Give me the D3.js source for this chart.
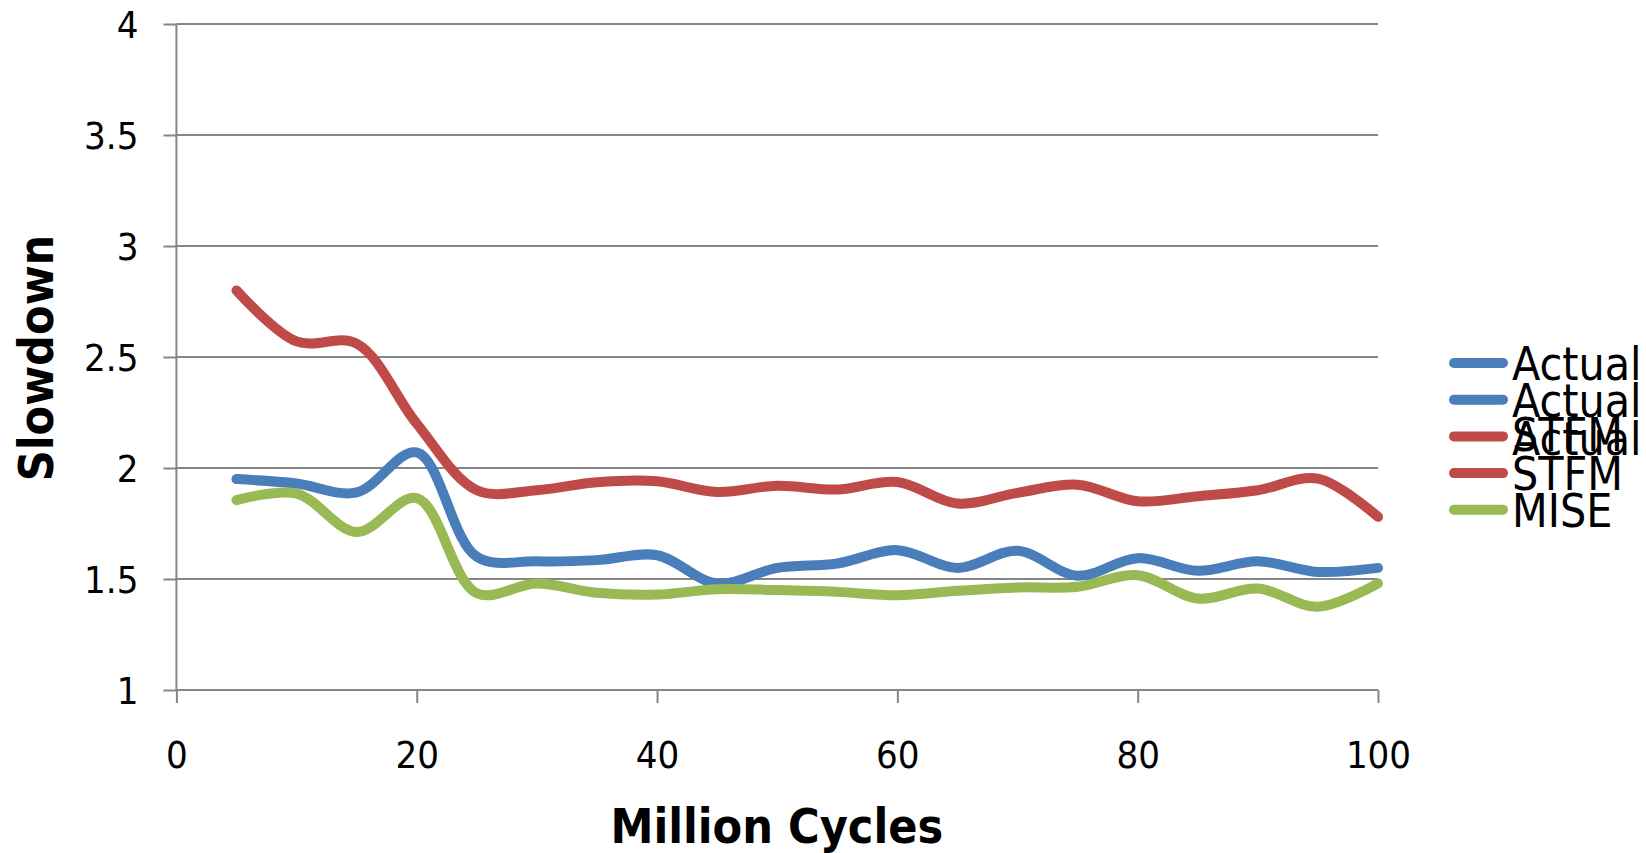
<!DOCTYPE html>
<html>
<head>
<meta charset="utf-8">
<script src="https://cdn.jsdelivr.net/npm/d3@7"></script>
<style>
  html, body { margin: 0; padding: 0; background: #ffffff; }
  svg { display: block; }
  text { font-family: "DejaVu Sans Condensed", "DejaVu Sans", sans-serif; font-stretch: condensed; fill: #000; }
</style>
</head>
<body>
<svg id="chart" width="1646" height="853"></svg>
<script>
// Slowdown over time, sampled every 5 million cycles
const cycles = [5, 10, 15, 20, 25, 30, 35, 40, 45, 50, 55, 60, 65, 70, 75, 80, 85, 90, 95, 100];
const actual = [1.95, 1.93, 1.89, 2.07, 1.60, 1.58, 1.585, 1.607, 1.48, 1.55, 1.57, 1.63, 1.55, 1.627, 1.515, 1.594, 1.537, 1.58, 1.532, 1.55];
const stfm   = [2.80, 2.57, 2.56, 2.20, 1.90, 1.90, 1.936, 1.94, 1.892, 1.92, 1.903, 1.937, 1.84, 1.888, 1.925, 1.85, 1.873, 1.90, 1.952, 1.78];
const mise   = [1.855, 1.885, 1.712, 1.864, 1.436, 1.48, 1.438, 1.43, 1.454, 1.45, 1.442, 1.427, 1.447, 1.462, 1.465, 1.517, 1.412, 1.457, 1.375, 1.48];

const xTicks = [0, 20, 40, 60, 80, 100];
const yTicks = [1, 1.5, 2, 2.5, 3, 3.5, 4];

// Legend rows: swatch series and the labels written beside each swatch
const legendSwatches = ["Actual", "Actual", "STFM", "STFM", "MISE"];
const legendLabels = [["Actual"], ["Actual"], ["STFM", "Actual"], ["STFM"], ["MISE"]];

const colors = { Actual: "#4a7ebb", STFM: "#be4b48", MISE: "#98b954" };

const series = [
  { name: "Actual", values: actual },
  { name: "STFM", values: stfm },
  { name: "MISE", values: mise }
];

const svg = d3.select("#chart");

const x = d3.scaleLinear().domain([0, 100]).range([176.4, 1378]);
const y = d3.scaleLinear().domain([1, 4]).range([690, 24]);

const gridColor = "#868686";

// Horizontal gridlines
svg.append("g")
  .selectAll("line")
  .data(yTicks.slice(1))
  .join("line")
  .attr("x1", x(0))
  .attr("x2", x(100))
  .attr("y1", d => y(d))
  .attr("y2", d => y(d))
  .attr("stroke", gridColor)
  .attr("stroke-width", 2);

// Y axis
const yAxis = svg.append("g")
  .attr("transform", `translate(${x(0)},0)`)
  .call(d3.axisLeft(y).tickValues(yTicks).tickFormat(d3.format("")).tickSize(13).tickPadding(25));
yAxis.select(".domain").attr("stroke", gridColor).attr("stroke-width", 2)
  .attr("d", `M0,${y(4)}V${y(1) + 0.5}`);
yAxis.selectAll(".tick line").attr("stroke", gridColor).attr("stroke-width", 2);
yAxis.selectAll(".tick text")
  .attr("font-size", 38)
  .attr("font-family", null)
  .attr("dy", "0.36em");

// X axis
const xAxis = svg.append("g")
  .attr("transform", `translate(0,${y(1)})`)
  .call(d3.axisBottom(x).tickValues(xTicks).tickSize(13).tickPadding(0));
xAxis.select(".domain").attr("stroke", gridColor).attr("stroke-width", 2)
  .attr("d", `M${x(0)},0H${x(100)}`);
xAxis.selectAll(".tick line").attr("stroke", gridColor).attr("stroke-width", 2);
xAxis.selectAll(".tick text")
  .attr("font-size", 38)
  .attr("font-family", null)
  .attr("y", 78)
  .attr("dy", 0);

// Series lines, smoothed
const line = d3.line()
  .x((d, i) => x(cycles[i]))
  .y(d => y(d))
  .curve(d3.curveCatmullRom.alpha(0.5));

svg.append("g")
  .selectAll("path")
  .data(series)
  .join("path")
  .attr("d", d => line(d.values))
  .attr("fill", "none")
  .attr("stroke", d => colors[d.name])
  .attr("stroke-width", 10)
  .attr("stroke-linecap", "round")
  .attr("stroke-linejoin", "round");

// Axis titles
svg.append("text")
  .attr("x", x(50) - 0.4)
  .attr("y", 843)
  .attr("text-anchor", "middle")
  .attr("font-size", 48)
  .attr("font-weight", "bold")
  .text("Million Cycles");

svg.append("text")
  .attr("transform", "translate(53,358) rotate(-90)")
  .attr("text-anchor", "middle")
  .attr("font-size", 48)
  .attr("font-weight", "bold")
  .text("Slowdown");

// Legend
const legendTop = 363;
const legendStep = 36.7;
const legend = svg.append("g");

legend.selectAll("line")
  .data(legendSwatches)
  .join("line")
  .attr("x1", 1454)
  .attr("x2", 1503)
  .attr("y1", (d, i) => legendTop + i * legendStep)
  .attr("y2", (d, i) => legendTop + i * legendStep)
  .attr("stroke", d => colors[d])
  .attr("stroke-width", 10)
  .attr("stroke-linecap", "round");

legendLabels.forEach((labels, i) => {
  labels.forEach((label, j) => {
    legend.append("text")
      .attr("x", 1512)
      .attr("y", legendTop + i * legendStep + 17 - (labels.length > 1 ? 2 : 0) + j * 4)
      .attr("font-size", 46)
      .text(label);
  });
});
</script>
</body>
</html>
